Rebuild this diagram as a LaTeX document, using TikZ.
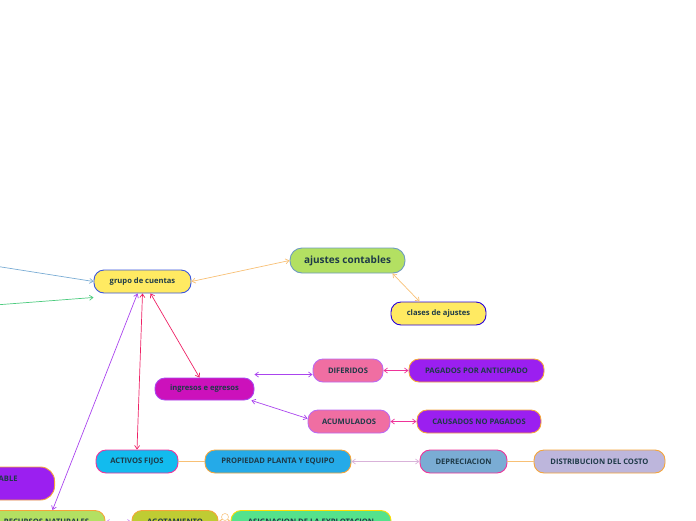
\documentclass[tikz,border=0pt]{standalone}
\usepackage{fontspec}
\setmainfont{Open Sans}
\usetikzlibrary{arrows.meta}

\definecolor{txt}{HTML}{1E3A48}
\definecolor{yel}{HTML}{FFEA62}
\definecolor{lime}{HTML}{B3E062}
\definecolor{mag}{HTML}{CC11BB}
\definecolor{pinkf}{HTML}{F06EA2}
\definecolor{purp}{HTML}{9B1FF0}
\definecolor{cyanf}{HTML}{12BBEE}
\definecolor{skyf}{HTML}{25AAE8}
\definecolor{steel}{HTML}{7AACD4}
\definecolor{lav}{HTML}{BDB6DC}
\definecolor{olive}{HTML}{BFCC33}
\definecolor{mint}{HTML}{55E28C}
\definecolor{bblue}{HTML}{3A55DD}
\definecolor{ora}{HTML}{F5A53A}
\definecolor{vio}{HTML}{AA44EE}
\definecolor{rosso}{HTML}{EE2266}
\definecolor{hotp}{HTML}{EE3399}

\begin{document}
\begin{tikzpicture}[x=1pt, y=-1pt,
  box/.style={draw, rounded corners=10pt, minimum height=23pt, line width=0.9pt,
              font=\fontsize{7.6}{10}\selectfont\bfseries, text=txt, inner sep=2pt},
  yelbox/.style={box, fill=yel, draw=bblue},
  pinkbox/.style={box, fill=pinkf, draw=vio!80},
  purpbox/.style={box, fill=purp, draw=ora},
  arr/.style={{Straight Barb[length=3.5pt,width=5pt]}-{Straight Barb[length=3.5pt,width=5pt]}, line width=0.7pt},
  tail/.style={-{Straight Barb[length=3.5pt,width=5pt]}, line width=0.7pt},
  link/.style={line width=1pt, ora!70}
]
  \useasboundingbox (0,0) rectangle (696,520);
  \clip (0,0) rectangle (696,520);

  % top part
  \node[yelbox, minimum width=97pt] (grupo) at (142.5,281.5) {grupo de cuentas};
  \node[box, fill=lime, draw=steel!90!black, minimum width=115pt, minimum height=25pt,
        rounded corners=12pt, font=\fontsize{10}{12}\selectfont\bfseries] (ajustes) at (347.5,260.5) {ajustes contables};
  \node[yelbox, draw=blue!70!violet, minimum width=95pt] (clases) at (438.5,313.5) {clases de ajustes};
  \coordinate (inA) at (-5,266);
  \coordinate (inB) at (-5,305);

  % ingresos e egresos
  \node[box, fill=mag, draw=vio, minimum width=99pt, minimum height=22pt] (ingresos) at (204.5,389) {ingresos e egresos};
  \node[pinkbox, minimum width=70pt] (diferidos) at (348,370.5) {DIFERIDOS};
  \node[purpbox, minimum width=135pt] (pagados) at (476.5,370.5) {PAGADOS POR ANTICIPADO};
  \node[pinkbox, minimum width=82pt] (acumulados) at (349,421.5) {ACUMULADOS};
  \node[purpbox, minimum width=124pt] (causados) at (479,421.5) {CAUSADOS NO PAGADOS};

  % activos fijos
  \node[box, fill=cyanf, draw=hotp, minimum width=82pt] (activos) at (137,461.5) {ACTIVOS FIJOS};
  \node[box, fill=skyf, draw=ora, minimum width=146pt] (propiedad) at (278,461.5) {PROPIEDAD PLANTA Y EQUIPO};
  \node[box, fill=steel, draw=hotp, minimum width=87pt] (depreciacion) at (463.5,461.5) {DEPRECIACION};
  \node[box, fill=lav, draw=ora, minimum width=131pt] (distribucion) at (599.5,461.5) {DISTRIBUCION DEL COSTO};

  % bottom left
  \node[purpbox, minimum height=33pt, rounded corners=14pt, text width=100pt, align=right,
        inner xsep=37pt, anchor=east] (contable) at (55,483.5) {ABLE\\\mbox{}};
  \node[box, fill=lime, draw=ora, minimum width=117pt] (recursos) at (46.5,522) {RECURSOS NATURALES};
  \node[box, fill=olive, draw=ora, minimum width=86pt] (agotamiento) at (175,522) {AGOTAMIENTO};
  \node[box, fill=mint, draw=yellow!80!orange, minimum width=160pt] (asignacion) at (311,522) {ASIGNACION DE LA EXPLOTACION};
  \node[circle, draw=ora!60, fill=white, line width=0.6pt, inner sep=0pt, minimum size=7pt] (plegar) at (225,517) {};

  % connectors
  \draw[tail, steel] (inA) -- (grupo.west);
  \draw[tail, mint!90!black] (inB) -- ([yshift=-4pt]grupo.south west);
  \draw[arr, ora!70] (grupo.east) -- (ajustes.west);
  \draw[arr, ora!70] ([xshift=-13pt]ajustes.south east) -- ([xshift=29pt]clases.north west);
  \draw[arr, vio] ([xshift=-5pt]grupo.south) -- ([xshift=6pt]recursos.north);
  \draw[arr, rosso] (grupo.south) -- (activos.north);
  \draw[arr, rosso] ([xshift=8pt]grupo.south) -- ([xshift=-5pt]ingresos.north);
  \draw[arr, vio] ([yshift=3pt]ingresos.north east) -- ([yshift=-4pt]diferidos.west);
  \draw[arr, vio] ([xshift=-3pt]ingresos.south east) -- ([yshift=-9pt]acumulados.north west);
  \draw[arr, hotp] (diferidos) -- (pagados);
  \draw[arr, hotp] (acumulados) -- (causados);
  \draw[link] (activos) -- (propiedad);
  \draw[arr, violet!30] (propiedad) -- (depreciacion);
  \draw[link] (depreciacion) -- (distribucion);
  \draw[arr, vio!60] (recursos) -- (agotamiento);
  \draw[link] (agotamiento.east) -- (plegar) -- (asignacion.west);
\end{tikzpicture}
\end{document}
